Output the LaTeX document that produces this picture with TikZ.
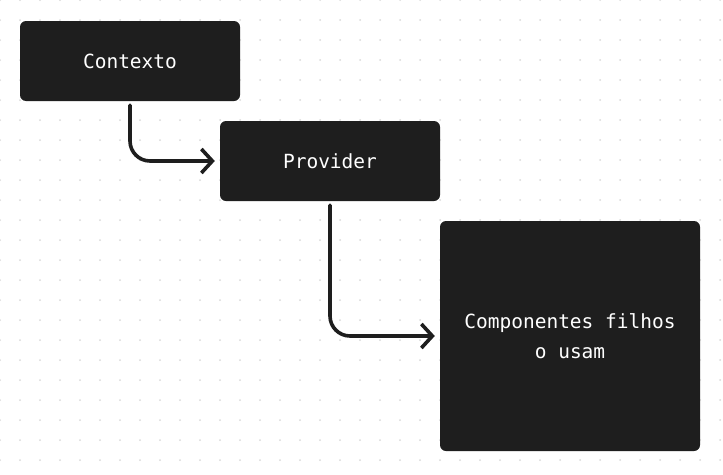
\documentclass[tikz,border=0pt]{standalone}
\usepackage{fontspec}
\setmonofont{DejaVu Sans Mono}
\usetikzlibrary{arrows.meta}
\definecolor{boxc}{HTML}{1E1E1E}
\definecolor{dotc}{HTML}{DADADA}
\tikzset{
	box/.style={fill=boxc,rounded corners=6pt,text=white,inner sep=0pt,align=center,
		font=\ttfamily\fontsize{19.5}{30}\selectfont},
	link/.style={draw=boxc,line width=3.6pt,rounded corners=20pt,line cap=round,line join=round,
		-{Straight Barb[length=11pt,width=24pt,line width=3.6pt]},shorten <=4pt,shorten >=5pt}
}
\begin{document}
\begin{tikzpicture}[x=1pt,y=-1pt]
	\useasboundingbox (0,0) rectangle (723,474);
	\fill[white] (0,0) rectangle (723,474);
	\foreach \i in {0,...,36}
		\foreach \j in {0,...,23}
			\fill[dotc] (\i*20,\j*20) circle (1); % lưới chấm
	\node[box,minimum width=220pt,minimum height=80pt] (ctx) at (130,61) {Contexto};
	\node[box,minimum width=220pt,minimum height=80pt] (prov) at (330,161) {Provider};
	\node[box,minimum width=260pt,minimum height=230pt] (filhos) at (570,336) {Componentes filhos\\o usam};
	\draw[link] (ctx) |- (prov);
	\draw[link] (prov) |- (filhos);
\end{tikzpicture}
\end{document}
